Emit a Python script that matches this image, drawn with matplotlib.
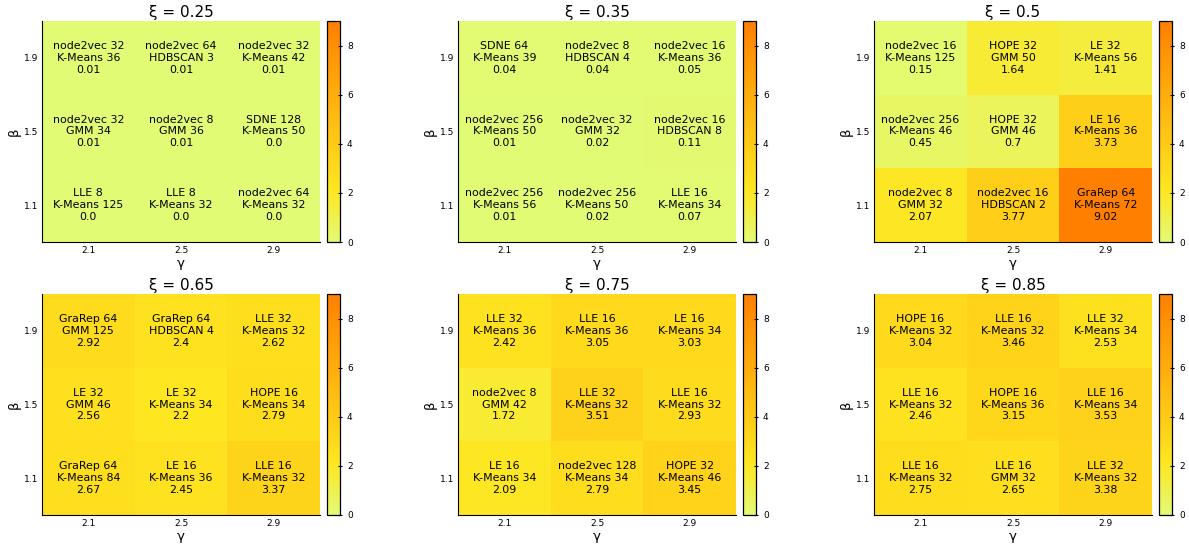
import matplotlib
matplotlib.use('Agg')
import matplotlib.pyplot as plt
import numpy as np
from matplotlib.colors import LinearSegmentedColormap

gammas = [2.1, 2.5, 2.9]
betas = [1.1, 1.5, 1.9]
xis = [0.25, 0.35, 0.5, 0.65, 0.75, 0.85]

# each panel: rows listed top to bottom (beta 1.9, 1.5, 1.1), columns gamma 2.1, 2.5, 2.9
embed = [
    [["node2vec 32", "node2vec 64", "node2vec 32"],
     ["node2vec 32", "node2vec 8", "SDNE 128"],
     ["LLE 8", "LLE 8", "node2vec 64"]],
    [["SDNE 64", "node2vec 8", "node2vec 16"],
     ["node2vec 256", "node2vec 32", "node2vec 16"],
     ["node2vec 256", "node2vec 256", "LLE 16"]],
    [["node2vec 16", "HOPE 32", "LE 32"],
     ["node2vec 256", "HOPE 32", "LE 16"],
     ["node2vec 8", "node2vec 16", "GraRep 64"]],
    [["GraRep 64", "GraRep 64", "LLE 32"],
     ["LE 32", "LE 32", "HOPE 16"],
     ["GraRep 64", "LE 16", "LLE 16"]],
    [["LLE 32", "LLE 16", "LE 16"],
     ["node2vec 8", "LLE 32", "LLE 16"],
     ["LE 16", "node2vec 128", "HOPE 32"]],
    [["HOPE 16", "LLE 16", "LLE 32"],
     ["LLE 16", "HOPE 16", "LLE 16"],
     ["LLE 16", "LLE 16", "LLE 32"]],
]
clust = [
    [["K-Means 36", "HDBSCAN 3", "K-Means 42"],
     ["GMM 34", "GMM 36", "K-Means 50"],
     ["K-Means 125", "K-Means 32", "K-Means 32"]],
    [["K-Means 39", "HDBSCAN 4", "K-Means 36"],
     ["K-Means 50", "GMM 32", "HDBSCAN 8"],
     ["K-Means 56", "K-Means 50", "K-Means 34"]],
    [["K-Means 125", "GMM 50", "K-Means 56"],
     ["K-Means 46", "GMM 46", "K-Means 36"],
     ["GMM 32", "HDBSCAN 2", "K-Means 72"]],
    [["GMM 125", "HDBSCAN 4", "K-Means 32"],
     ["GMM 46", "K-Means 34", "K-Means 34"],
     ["K-Means 84", "K-Means 36", "K-Means 32"]],
    [["K-Means 36", "K-Means 36", "K-Means 34"],
     ["GMM 42", "K-Means 32", "K-Means 32"],
     ["K-Means 34", "K-Means 34", "K-Means 46"]],
    [["K-Means 32", "K-Means 32", "K-Means 34"],
     ["K-Means 32", "K-Means 36", "K-Means 34"],
     ["K-Means 32", "GMM 32", "K-Means 32"]],
]
values = [
    [[0.01, 0.01, 0.01], [0.01, 0.01, 0.0], [0.0, 0.0, 0.0]],
    [[0.04, 0.04, 0.05], [0.01, 0.02, 0.11], [0.01, 0.02, 0.07]],
    [[0.15, 1.64, 1.41], [0.45, 0.7, 3.73], [2.07, 3.77, 9.02]],
    [[2.92, 2.4, 2.62], [2.56, 2.2, 2.79], [2.67, 2.45, 3.37]],
    [[2.42, 3.05, 3.03], [1.72, 3.51, 2.93], [2.09, 2.79, 3.45]],
    [[3.04, 3.46, 2.53], [2.46, 3.15, 3.53], [2.75, 2.65, 3.38]],
]

cmap = LinearSegmentedColormap.from_list(
    "ygo", [(0.0, "#e2fb74"), (0.24, "#fee620"), (1.0, "#ff8000")])
vmax = max(max(max(r) for r in p) for p in values)

W, H = 1189, 546
fig = plt.figure(figsize=(W / 100, H / 100), dpi=100)

lefts = [42, 458, 874]
tops = [21, 294]
aw, ah = 278, 221
gx = np.array([1.9, 2.3, 2.7, 3.1])
by = np.array([0.9, 1.3, 1.7, 2.1])

for k, xi in enumerate(xis):
    r, c = divmod(k, 3)
    l, t = lefts[c], tops[r]
    ax = fig.add_axes([l / W, 1 - (t + ah) / H, aw / W, ah / H])
    C = np.array(values[k])[::-1]
    mesh = ax.pcolormesh(gx, by, C, cmap=cmap, vmin=0, vmax=vmax)
    for i in range(3):
        for j in range(3):
            yb = betas[::-1][i]
            txt = f"{embed[k][i][j]}\n{clust[k][i][j]}\n{values[k][i][j]}"
            ax.text(gammas[j], yb, txt, ha='center', va='center',
                    fontsize=7.9, linespacing=1.24)
    ax.set_xlim(1.9, 3.1)
    ax.set_ylim(0.9, 2.1)
    ax.set_xticks(gammas)
    ax.set_xticklabels([str(g) for g in gammas])
    ax.set_yticks(betas)
    ax.set_yticklabels([str(b) for b in betas])
    ax.tick_params(length=0, labelsize=6.5)
    ax.tick_params(axis='x', pad=3)
    ax.tick_params(axis='y', pad=3)
    ax.spines['top'].set_visible(False)
    ax.spines['right'].set_visible(False)
    ax.set_xlabel("γ", fontsize=9.5, labelpad=1)
    ax.set_ylabel("β", fontsize=9.5, labelpad=2)
    ax.set_title(f"ξ = {xi}", fontsize=11, pad=3)

    cax = fig.add_axes([(l + aw + 7) / W, 1 - (t + ah) / H, 13 / W, ah / H])
    cb = fig.colorbar(mesh, cax=cax, ticks=[0, 2, 4, 6, 8])
    cb.ax.tick_params(labelsize=6.5, length=3, direction='inout', width=0.8)
    cb.outline.set_linewidth(0.9)

plt.savefig("out.png", dpi=100)
